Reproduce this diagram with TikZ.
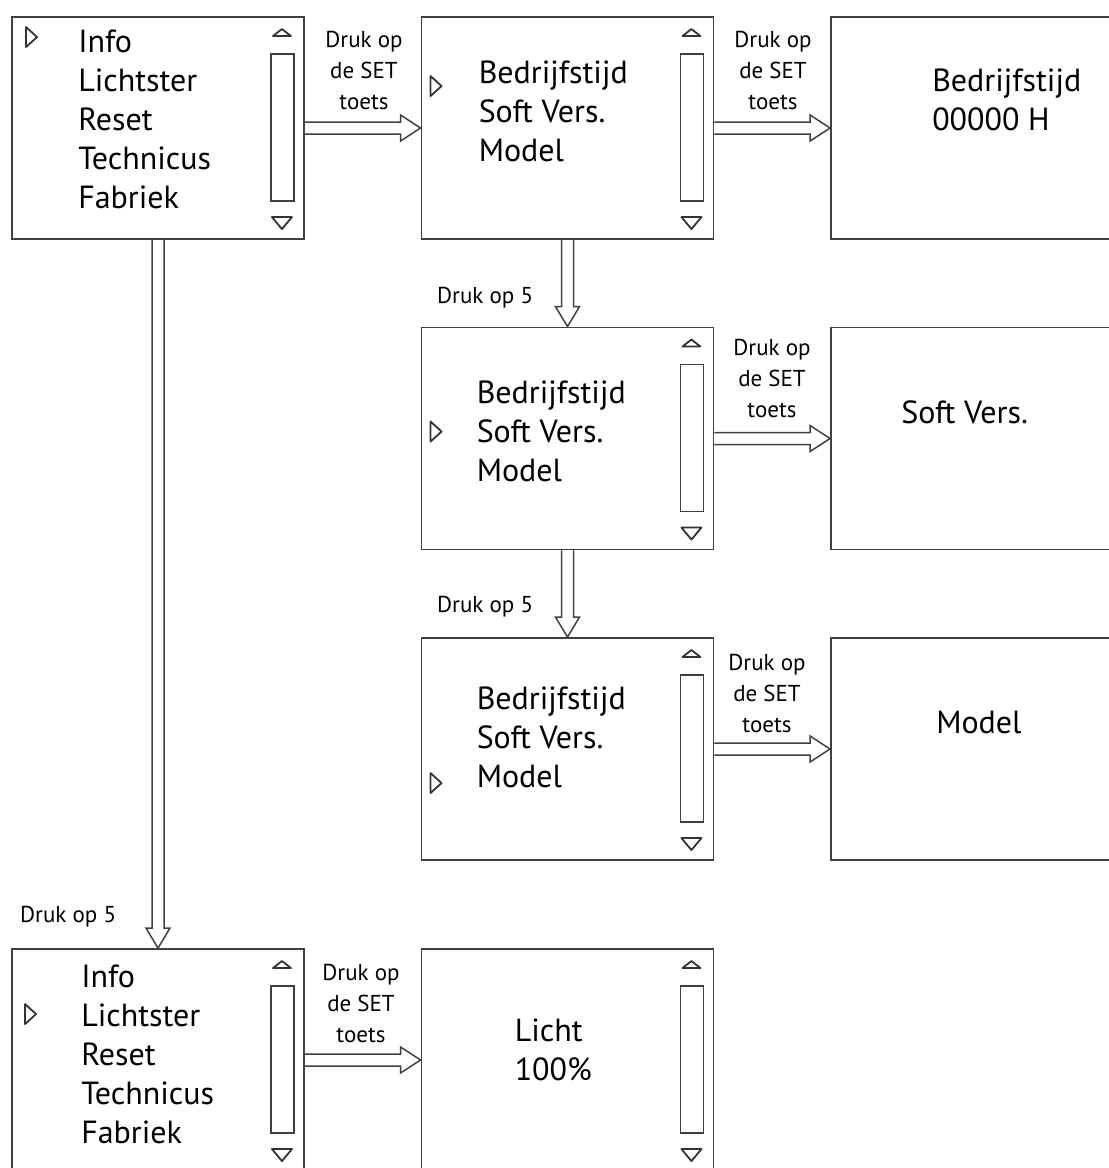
\documentclass[tikz,border=0pt]{standalone}
\usepackage{fontspec}
\setmainfont{PT Sans}
\usetikzlibrary{calc}
\newcommand\screenlines[4]{%
  \foreach \t [count=\i from 0] in {#4}
    \node[item] (#1-\i) at ($(#1.north west)+(#2,#3+39*\i)$) {\t};}
\begin{document}
\begin{tikzpicture}[x=1pt,y=-1pt,
  screen/.style={draw=black!75, line width=1.9pt, minimum width=292pt, minimum height=222pt, inner sep=0pt},
  item/.style={anchor=base west, inner sep=0pt, font=\fontsize{32}{39}\selectfont},
  setlabel/.style={anchor=south, align=center, inner sep=0pt, font=\fontsize{23}{31}\selectfont},
  press/.style={anchor=base west, inner sep=0pt, font=\fontsize{23}{31}\selectfont},
  rarrow/.style={draw=black!75, line width=1.5pt, line join=miter, to path={
    ($(\tikztostart)+(0,-6)$) -- ($(\tikztotarget)+(-20,-6)$) -- ($(\tikztotarget)+(-20,-13)$) -- (\tikztotarget)
    -- ($(\tikztotarget)+(-20,13)$) -- ($(\tikztotarget)+(-20,6)$) -- ($(\tikztostart)+(0,6)$)}},
  darrow/.style={draw=black!75, line width=1.5pt, line join=miter, to path={
    ($(\tikztostart)+(-6,0)$) -- ($(\tikztotarget)+(-6,-20)$) -- ($(\tikztotarget)+(-12,-20)$) -- (\tikztotarget)
    -- ($(\tikztotarget)+(12,-20)$) -- ($(\tikztotarget)+(6,-20)$) -- ($(\tikztostart)+(6,0)$)}},
  pics/scroll/.style={code={
    \draw[black!75, line width=1.6pt] (-34,38) rectangle (-11,185);
    \draw[black!80, line width=1.8pt, line join=round] (-32,20) -- (-14,20) -- (-23,13) -- cycle;
    \draw[black!80, line width=1.8pt, line join=round] (-33,201) -- (-13,201) -- (-23,213) -- cycle;}},
  pics/pointer/.style={code={
    \draw[black!80, line width=1.8pt, line join=round] (-5,-10) -- (6,0) -- (-5,10) -- cycle;}}]
\useasboundingbox (0,0) rectangle (1109,1168);
\clip (0,0) rectangle (1109,1168);

\node[screen] (menu) at (158,128) {};
\node[screen] (info1) at (567.5,128) {};
\node[screen] (hours) at (977,128) {};
\node[screen] (info2) at (567.5,438.5) {};
\node[screen] (soft) at (977,438.5) {};
\node[screen] (info3) at (567.5,749) {};
\node[screen] (model) at (977,749) {};
\node[screen] (menu2) at (158,1060) {};
\node[screen] (light) at (567.5,1060) {};

\foreach \s in {menu,info1,info2,info3,menu2,light}
  \pic at (\s.north east) {scroll};
\pic at ($(menu.north west)+(20,21)$) {pointer};
\pic at ($(info1.north west)+(15,70)$) {pointer};
\pic at ($(info2.north west)+(15,105)$) {pointer};
\pic at ($(info3.north west)+(15,146)$) {pointer};
\pic at ($(menu2.north west)+(19,66)$) {pointer};

\screenlines{menu}{67}{36}{Info,Lichtster,Reset,Technicus,Fabriek}
\screenlines{info1}{58}{67}{Bedrijfstijd,Soft Vers.,Model}
\screenlines{hours}{102}{75}{Bedrijfstijd,00000 H}
\screenlines{info2}{56}{77}{Bedrijfstijd,Soft Vers.,Model}
\screenlines{soft}{71}{97}{Soft Vers.}
\screenlines{info3}{56}{72}{Bedrijfstijd,Soft Vers.,Model}
\screenlines{model}{106}{96}{Model}
\screenlines{menu2}{70}{39}{Info,Lichtster,Reset,Technicus,Fabriek}
\screenlines{light}{94}{93}{Licht,100\%}

\draw[rarrow] (menu.east) to (info1.west);
\draw[rarrow] (info1.east) to (hours.west);
\draw[rarrow] (info2.east) to (soft.west);
\draw[rarrow] (info3.east) to (model.west);
\draw[rarrow] (menu2.east) to (light.west);
\draw[darrow] (info1.south) to (info2.north);
\draw[darrow] (info2.south) to (info3.north);
\draw[darrow] (menu.south) to (menu2.north);

\node[setlabel] (set1) at (364,110) {Druk op\\de SET\\toets};
\node[setlabel] (set2) at (773,110) {Druk op\\de SET\\toets};
\node[setlabel] (set3) at (772,418) {Druk op\\de SET\\toets};
\node[setlabel] (set4) at (767,733) {Druk op\\de SET\\toets};
\node[setlabel] (set5) at (361,1043) {Druk op\\de SET\\toets};
\node[press] (down1) at (437,303) {Druk op 5};
\node[press] (down2) at (437,612) {Druk op 5};
\node[press] (down3) at (20,922) {Druk op 5};
\end{tikzpicture}
\end{document}
